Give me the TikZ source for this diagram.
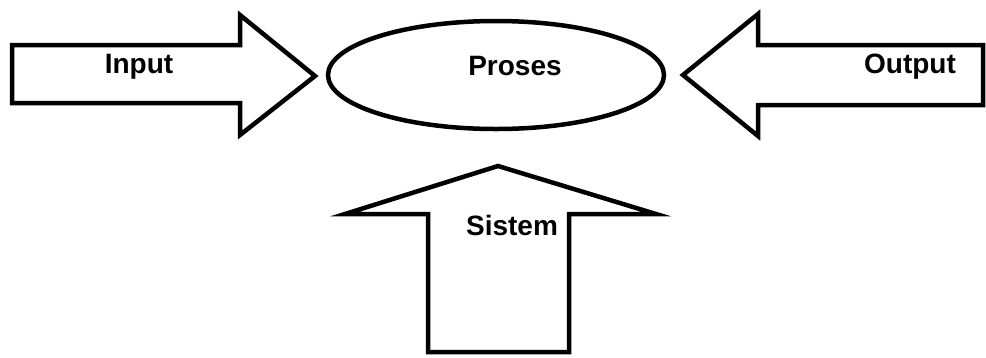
\documentclass[tikz,border=0pt]{standalone}
\usepackage{fontspec}
\setmainfont{Liberation Sans}
\usetikzlibrary{shapes.geometric}
\begin{document}
\begin{tikzpicture}[x=1pt,y=-1pt,
  blockarrow/.style={draw=black,line width=4.5pt,fill=white,line join=miter},
  lbl/.style={font=\fontsize{28}{32}\selectfont\bfseries,inner sep=0pt}]
\useasboundingbox (0,0) rectangle (986,357);
% Input arrow
\draw[blockarrow] (12,45) -- (240,45) -- (240,15) -- (315,76) -- (240,135) -- (240,103) -- (12,103) -- cycle;
\node[lbl] (input) at (139,67) {Input};
% Proses ellipse
\node[draw=black,line width=4.5pt,ellipse,minimum width=336pt,minimum height=108pt,inner sep=0pt] (proses) at (496,75) {};
\node[lbl] (prosestxt) at (515,66) {Proses};
% Output arrow
\draw[blockarrow] (983,45) -- (758,45) -- (758,14) -- (683,75) -- (758,136) -- (758,105) -- (983,105) -- cycle;
\node[lbl] (output) at (910,67) {Output};
% Sistem arrow
\draw[blockarrow] (428,352) -- (428,214) -- (345,214) -- (498,166) -- (656,214) -- (569,214) -- (569,352) -- cycle;
\node[lbl] (sistem) at (512,225) {Sistem};
\end{tikzpicture}
\end{document}
